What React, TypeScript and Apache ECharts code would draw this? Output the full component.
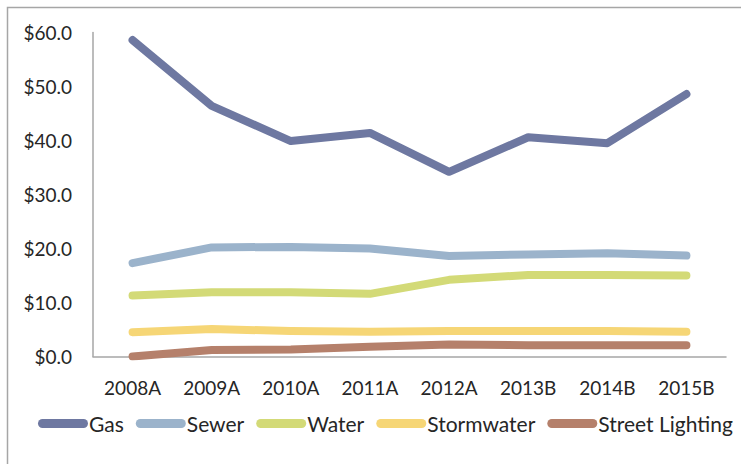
import React, { useEffect, useRef } from "react";
import * as echarts from "echarts";

const categories = ["2008A", "2009A", "2010A", "2011A", "2012A", "2013B", "2014B", "2015B"];
const gas = [58.6, 46.4, 39.9, 41.4, 34.2, 40.6, 39.5, 48.6];
const sewer = [17.3, 20.2, 20.3, 20.0, 18.6, 18.9, 19.1, 18.7];
const water = [11.3, 11.9, 11.9, 11.6, 14.2, 15.1, 15.1, 15.0];
const stormwater = [4.5, 5.1, 4.7, 4.6, 4.7, 4.7, 4.7, 4.6];
const streetLighting = [0.0, 1.2, 1.3, 1.8, 2.2, 2.1, 2.1, 2.1];

const seriesNames = ["Gas", "Sewer", "Water", "Stormwater", "Street Lighting"];
const seriesData = [gas, sewer, water, stormwater, streetLighting];
const colors = ["#6e78a1", "#9bb3cb", "#d3da77", "#f6d676", "#b5806b"];

const FONT = "Lato";
const TEXT = "#262626";

export default function App() {
  const ref = useRef<HTMLDivElement>(null);
  useEffect(() => {
    if (!ref.current) return;
    const chart = echarts.init(ref.current, null, { renderer: "svg" });
    chart.setOption({
      animation: false,
      backgroundColor: "#ffffff",
      color: colors,
      grid: { left: 93, right: 15, top: 32.5, bottom: 107.5, containLabel: false },
      graphic: [
        {
          type: "rect",
          shape: { x: 7.5, y: 7.5, width: 900, height: 900 },
          style: { fill: "none", stroke: "#a6a6a6", lineWidth: 1.5 },
          silent: true,
          z: -10,
        },
      ],
      legend: {
        left: 38,
        top: 413,
        padding: 0,
        itemWidth: 50,
        itemHeight: 9,
        itemGap: 12,
        icon: "path://M4.5,0 H45.5 A4.5,4.5 0 0 1 45.5,9 H4.5 A4.5,4.5 0 0 1 4.5,0 Z",
        textStyle: { fontFamily: FONT, fontSize: 21, color: TEXT, padding: [0, 0, 0, -4] },
        data: seriesNames,
      },
      xAxis: {
        type: "category",
        data: categories,
        boundaryGap: true,
        axisLine: { lineStyle: { color: "#a6a6a6", width: 1.5 } },
        axisTick: { show: false },
        axisLabel: { fontFamily: FONT, fontSize: 19, color: TEXT, margin: 21 },
        splitLine: { show: false },
      },
      yAxis: {
        type: "value",
        min: 0,
        max: 60,
        interval: 10,
        axisLine: { show: true, lineStyle: { color: "#a6a6a6", width: 1.5 } },
        axisTick: { show: false },
        splitLine: { show: false },
        axisLabel: {
          fontFamily: FONT,
          fontSize: 19,
          color: TEXT,
          margin: 21,
          formatter: (v: number) => "$" + v.toFixed(1),
        },
      },
      series: seriesNames.map((name, i) => ({
        name,
        type: "line",
        data: seriesData[i],
        showSymbol: false,
        symbol: "none",
        lineStyle: { width: 8, color: colors[i], cap: "round", join: "round" },
        itemStyle: { color: colors[i] },
        z: 2 + i,
      })),
    });
    return () => chart.dispose();
  }, []);
  return (
    <div
      ref={ref}
      style={{ position: "fixed", left: 0, top: 0, width: 741, height: 464, background: "#fff" }}
    />
  );
}
